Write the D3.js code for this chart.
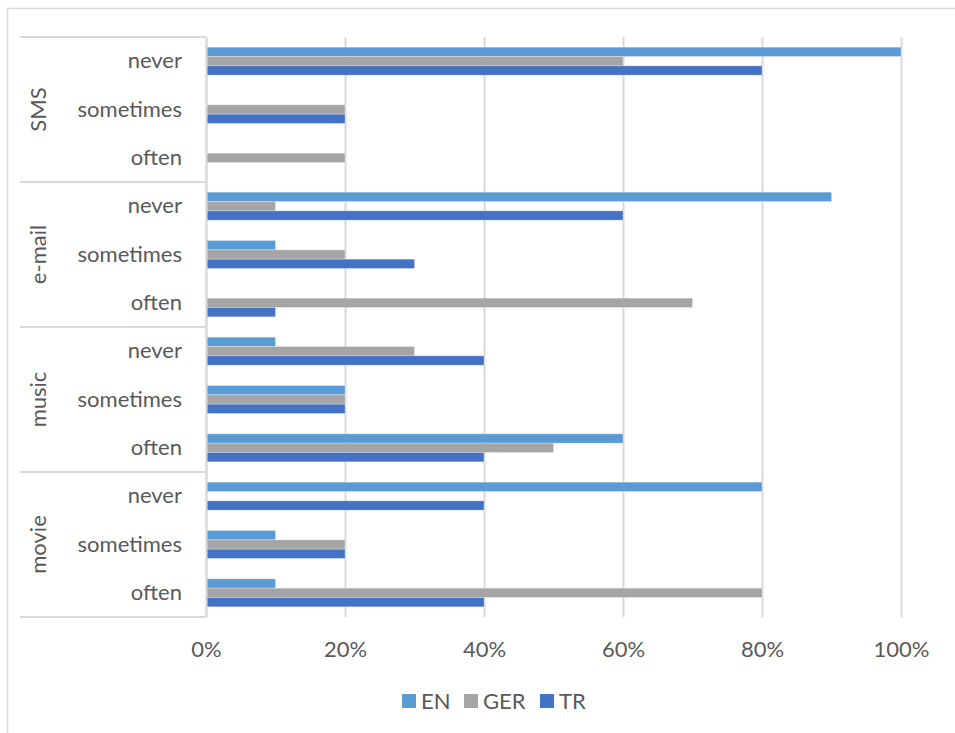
<!DOCTYPE html>
<html>
<head>
<meta charset="utf-8">
<script src="https://cdn.jsdelivr.net/npm/d3@7"></script>
<style>
  html, body { margin: 0; padding: 0; background: #fff; }
  svg { display: block; }
  text { font-family: Lato, "Open Sans", sans-serif; fill: #595959; }
</style>
</head>
<body>
<svg id="chart" width="955" height="733"></svg>
<script>
// ---- data ----
const groups = ["SMS", "e-mail", "music", "movie"];
const frequencies = ["never", "sometimes", "often"];
const series = ["EN", "GER", "TR"];
const seriesColors = ["#5B9BD5", "#A5A5A5", "#4472C4"];
// values in %, per group, per frequency (never, sometimes, often)
const valuesEN  = [[100, 0, 0], [90, 10, 0], [10, 20, 60], [80, 10, 10]];
const valuesGER = [[60, 20, 20], [10, 20, 70], [30, 20, 50], [0, 20, 80]];
const valuesTR  = [[80, 20, 0], [60, 30, 10], [40, 20, 40], [40, 20, 40]];
const tickValues = [0, 20, 40, 60, 80, 100];

// ---- layout ----
const svg = d3.select("#chart");
const plot = { left: 206, right: 901, top: 37, bottom: 617 };
const gridColor = "#D9D9D9";
const fontSize = 22;

// chart border (extends past the visible canvas on right/bottom)
svg.append("rect")
  .attr("x", 7.5).attr("y", 8.5)
  .attr("width", 1200).attr("height", 1200)
  .attr("fill", "none").attr("stroke", gridColor).attr("stroke-width", 1.5);

const rows = [];
groups.forEach((g, gi) => frequencies.forEach((f, fi) => rows.push({ key: g + "|" + f, group: g, gi, freq: f, fi })));

const x = d3.scaleLinear().domain([0, 100]).range([plot.left, plot.right]);
const y = d3.scaleBand().domain(rows.map(r => r.key)).range([plot.top, plot.bottom]).paddingInner(0).paddingOuter(0);
const ySub = d3.scaleBand().domain(series).range([0, y.bandwidth()]).paddingInner(0).paddingOuter(1.09);
const color = d3.scaleOrdinal().domain(series).range(seriesColors);
const seriesValues = { EN: valuesEN, GER: valuesGER, TR: valuesTR };

// gridlines
const xAxis = d3.axisBottom(x).tickValues(tickValues).tickSize(-(plot.bottom - plot.top)).tickFormat(d => d + "%").tickPadding(0);
const gx = svg.append("g").attr("transform", `translate(0,${plot.bottom})`).call(xAxis);
gx.select(".domain").remove();
gx.selectAll(".tick line").attr("stroke", gridColor).attr("stroke-width", 2);
gx.selectAll(".tick text")
  .attr("y", 32).attr("dy", "0.35em")
  .attr("font-size", fontSize)
  .style("font-family", "Lato, sans-serif").attr("fill", "#595959");

// bars
const barData = [];
rows.forEach(r => series.forEach(s => barData.push({ row: r, s, v: seriesValues[s][r.gi][r.fi] })));
svg.append("g").selectAll("rect").data(barData.filter(d => d.v > 0)).join("rect")
  .attr("x", x(0))
  .attr("y", d => y(d.row.key) + ySub(d.s))
  .attr("width", d => x(d.v) - x(0))
  .attr("height", ySub.bandwidth())
  .attr("fill", d => color(d.s))
  .attr("stroke", "#ffffff").attr("stroke-opacity", 0.35).attr("stroke-width", 0.8);

// category axis (multi-level)
const yAxis = d3.axisLeft(y).tickSize(0).tickPadding(24).tickFormat(k => k.split("|")[1]);
const gy = svg.append("g").attr("transform", `translate(${plot.left},0)`).call(yAxis);
gy.select(".domain").attr("stroke", gridColor).attr("stroke-width", 2);
gy.selectAll(".tick text").attr("font-size", fontSize).style("font-family", "Lato, sans-serif").attr("fill", "#595959");

// group separators
const groupBounds = groups.map((g, gi) => ({
  g,
  top: y(g + "|" + frequencies[0]),
  bottom: y(g + "|" + frequencies[frequencies.length - 1]) + y.bandwidth()
}));
const sepYs = [plot.top].concat(groupBounds.map(b => b.bottom));
svg.append("g").selectAll("line").data(sepYs).join("line")
  .attr("x1", 20).attr("x2", plot.left)
  .attr("y1", d => d).attr("y2", d => d)
  .attr("stroke", gridColor).attr("stroke-width", 2);

// group labels (rotated)
svg.append("g").selectAll("text").data(groupBounds).join("text")
  .attr("transform", d => `translate(38,${(d.top + d.bottom) / 2}) rotate(-90)`)
  .attr("text-anchor", "middle").attr("dy", "0.35em")
  .attr("font-size", fontSize)
  .text(d => d.g);

// legend
const legendItems = [
  { s: "EN", x: 402 },
  { s: "GER", x: 464 },
  { s: "TR", x: 540 }
];
const lg = svg.append("g").selectAll("g").data(legendItems).join("g")
  .attr("transform", d => `translate(${d.x},701)`);
lg.append("rect").attr("x", 0).attr("y", -7).attr("width", 14).attr("height", 14).attr("fill", d => color(d.s));
lg.append("text").attr("x", 19).attr("dy", "0.35em").attr("font-size", fontSize).text(d => d.s);
</script>
</body>
</html>
